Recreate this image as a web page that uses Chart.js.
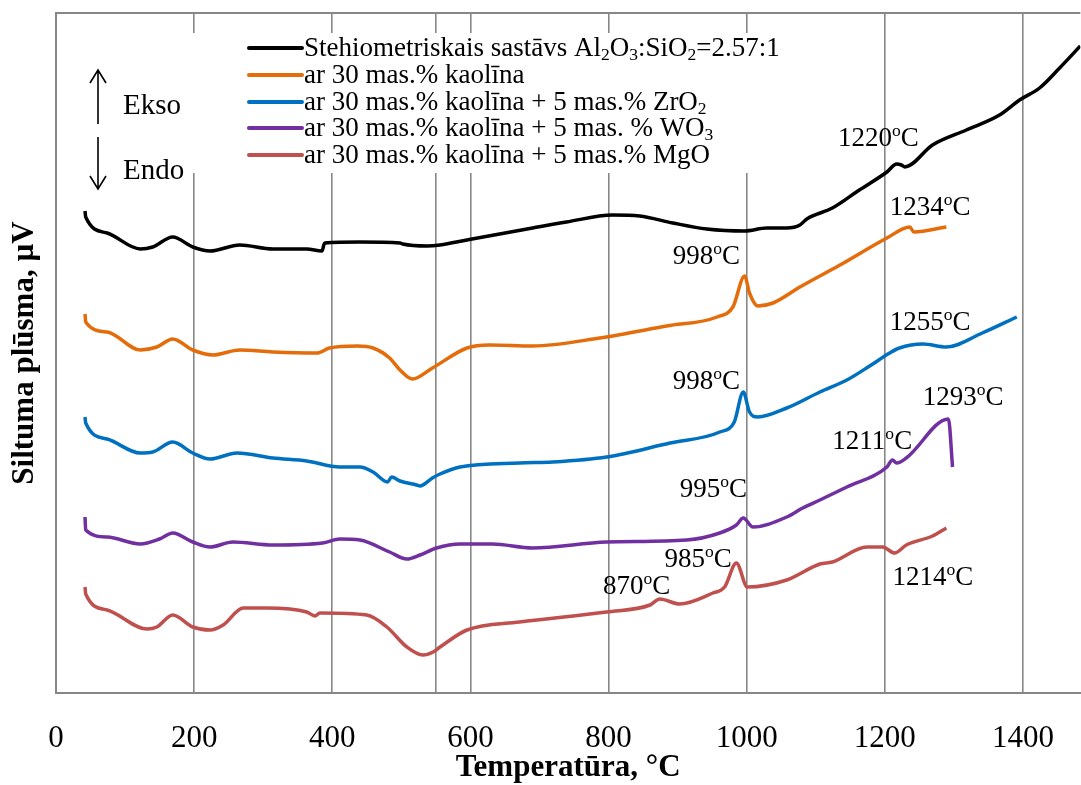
<!DOCTYPE html>
<html><head><meta charset="utf-8">
<script src="https://cdn.jsdelivr.net/npm/chart.js@4"></script>
<style>html,body{margin:0;padding:0;background:#fff}#wrap{width:1081px;height:785px;position:relative}</style>
</head><body><div id="wrap"><canvas id="c" width="1081" height="785"></canvas></div>
<script>
// ---- DATA (temperature °C, heat-flow signal, arbitrary µV offsets) ----
const stehT = [42,43,74,122,140,169,198,223,266,314,363,385,389,440,498,502,537,556,595,690,739,806,845,893,942,997,1029,1058,1077,1087,1124,1163,1203,1217,1224,1229,1269,1318,1366,1395,1424,1453,1483];
const stehV = [48.2,47.6,46.0,44.4,44.6,45.6,44.6,44.2,44.8,44.4,44.4,44.2,45.0,45.1,45.0,44.9,44.7,44.8,45.3,46.5,47.1,47.8,47.7,47.0,46.4,46.2,46.5,46.5,46.8,47.4,48.5,50.3,52.1,52.9,52.8,52.6,54.8,56.3,57.8,59.3,60.5,62.5,64.7];

const kaolT = [42,43,74,122,146,169,198,227,266,314,378,396,436,459,483,498,516,545,595,628,690,787,884,957,980,997,1004,1016,1038,1077,1135,1203,1236,1242,1289];
const kaolV = [37.9,37.1,36.1,34.3,34.6,35.4,34.3,33.8,34.3,34.1,34.0,34.5,34.7,34.5,33.5,32.3,31.4,32.5,34.5,34.8,34.7,35.5,36.7,37.6,38.6,41.7,40.0,38.7,39.0,40.6,42.8,45.5,46.6,46.1,46.6];

const zrT = [42,43,74,122,140,169,198,223,262,314,363,411,440,459,480,486,498,522,527,545,556,585,671,719,797,889,961,982,995,1004,1016,1058,1106,1145,1178,1207,1221,1255,1289,1341,1391];
const zrV = [27.6,27.0,25.4,24.0,24.1,25.1,24.0,23.4,24.0,23.5,23.2,22.6,22.6,22.1,21.1,21.6,21.2,20.8,20.7,21.5,21.9,22.6,23.0,23.1,23.6,25.0,26.1,27.1,30.1,28.1,27.6,28.5,30.1,31.3,32.7,34.0,34.5,34.9,34.6,36.0,37.6];

const wT = [42,43,74,122,150,169,198,223,256,314,386,411,440,483,508,527,551,585,632,690,797,913,961,985,995,1009,1058,1081,1106,1145,1203,1211,1217,1231,1292,1298];
const wV = [17.6,16.3,15.6,14.9,15.4,16.0,15.1,14.6,15.1,14.8,15.0,15.4,15.3,14.1,13.4,13.8,14.5,14.9,14.9,14.5,15.1,15.3,16.0,16.8,17.5,16.6,17.6,18.5,19.3,20.6,22.6,23.3,23.0,23.5,27.4,22.6];

const mgT = [42,43,74,132,146,169,198,223,242,271,305,363,375,382,450,479,508,531,546,556,595,671,797,860,874,903,951,968,985,1001,1058,1106,1124,1174,1197,1214,1231,1269,1289];
const mgV = [10.6,9.9,8.3,6.4,6.6,7.8,6.6,6.3,6.8,8.5,8.5,8.1,7.7,8.0,7.8,6.6,4.6,3.8,4.1,4.6,6.3,7.1,8.1,8.8,9.4,8.9,10.0,10.6,13.0,10.6,11.3,12.9,13.1,14.6,14.6,14.0,14.8,15.7,16.5];

const seriesNames = [
  'Stehiometriskais sastāvs Al₂O₃:SiO₂=2.57:1',
  'ar 30 mas.% kaolīna',
  'ar 30 mas.% kaolīna + 5 mas.% ZrO₂',
  'ar 30 mas.% kaolīna + 5 mas. % WO₃',
  'ar 30 mas.% kaolīna + 5 mas.% MgO'
];
const xTickLabels = [0,200,400,600,800,1000,1200,1400];
const xGridValues = [0,200,400,550,600,800,1000,1200,1400];

// peak annotations: text, temperature position, signal position
const annotations = [
  {text:'1220ºC', t:1132, v:55.4},
  {text:'1234ºC', t:1207, v:48.5},
  {text:'998ºC',  t:893,  v:43.6},
  {text:'1255ºC', t:1207, v:37.0},
  {text:'998ºC',  t:893,  v:31.1},
  {text:'1293ºC', t:1255, v:29.5},
  {text:'1211ºC', t:1124, v:25.1},
  {text:'995ºC',  t:903,  v:20.3},
  {text:'985ºC',  t:881,  v:13.3},
  {text:'870ºC',  t:792,  v:10.6},
  {text:'1214ºC', t:1211, v:11.5}
];

// ---- STYLE ----
const SERIF = '"Liberation Serif", "Times New Roman", serif';
const colors = ['#000000','#E46C0A','#0070C0','#7030A0','#C0504D'];
const GRID = '#878787';

function zip(t, v){ return t.map((x,i)=>({x:x, y:v[i]})); }
const allT = [stehT,kaolT,zrT,wT,mgT];
const allV = [stehV,kaolV,zrV,wV,mgV];

function drawRich(ctx, str, x, y, size, bold){
  // draws text with ₂/₃ as subscripts and º as superscript o
  const runs = [];
  let cur = '';
  for (const ch of str){
    if (ch==='₂'||ch==='₃'||ch==='º'){
      if (cur) runs.push({t:cur, k:'n'});
      cur='';
      if (ch==='º') runs.push({t:'o', k:'sup'});
      else runs.push({t: ch==='₂'?'2':'3', k:'sub'});
    } else cur += ch;
  }
  if (cur) runs.push({t:cur, k:'n'});
  let cx = x;
  ctx.textBaseline = 'middle';
  ctx.textAlign = 'left';
  for (const r of runs){
    let s = size, dy = 0;
    if (r.k==='sub'){ s = size*0.65; dy = size*0.22; }
    if (r.k==='sup'){ s = size*0.65; dy = -size*0.27; }
    ctx.font = (bold?'bold ':'') + s + 'px ' + SERIF;
    ctx.fillText(r.t, cx, y+dy);
    cx += ctx.measureText(r.t).width;
  }
  return cx - x;
}

const decorPlugin = {
  id:'decor',
  beforeDatasetsDraw(chart){
    const ctx = chart.ctx, a = chart.chartArea;
    ctx.save();
    // top plot border
    ctx.strokeStyle = GRID; ctx.lineWidth = 2;
    ctx.beginPath(); ctx.moveTo(a.left, a.top); ctx.lineTo(a.right, a.top); ctx.stroke();
    // white legend / label box
    ctx.fillStyle = '#fff';
    ctx.fillRect(75, 33, 725, 140);
    // legend
    const rows = [48, 75, 102, 128, 155];
    chart.data.datasets.forEach((ds, i)=>{
      ctx.strokeStyle = ds.borderColor; ctx.lineWidth = 4; ctx.lineCap = 'round';
      ctx.beginPath(); ctx.moveTo(249, rows[i]); ctx.lineTo(302, rows[i]); ctx.stroke();
      ctx.fillStyle = '#000';
      drawRich(ctx, ds.label, 304, rows[i]+1, 27, false);
    });
    // Ekso / Endo arrows
    ctx.strokeStyle = '#000'; ctx.lineWidth = 1.6; ctx.lineCap = 'butt';
    ctx.beginPath();
    ctx.moveTo(98,124); ctx.lineTo(98,70);
    ctx.moveTo(90,83); ctx.lineTo(98,70); ctx.lineTo(106,83);
    ctx.moveTo(98,137); ctx.lineTo(98,189);
    ctx.moveTo(90,176); ctx.lineTo(98,189); ctx.lineTo(106,176);
    ctx.stroke();
    ctx.fillStyle = '#000';
    drawRich(ctx, 'Ekso', 123, 106, 29, false);
    drawRich(ctx, 'Endo', 123, 171, 29, false);
    ctx.restore();
  },
  afterDatasetsDraw(chart){
    const ctx = chart.ctx, xs = chart.scales.x, ys = chart.scales.y;
    ctx.save();
    ctx.fillStyle = '#000';
    annotations.forEach(an=>{
      drawRich(ctx, an.text, xs.getPixelForValue(an.t), ys.getPixelForValue(an.v), 27, false);
    });
    ctx.restore();
  }
};

new Chart(document.getElementById('c'), {
  type:'line',
  data:{
    datasets: seriesNames.map((n,i)=>({
      label:n,
      data: zip(allT[i], allV[i]),
      borderColor: colors[i],
      backgroundColor: colors[i],
      borderWidth: 3.5,
      pointRadius: 0,
      cubicInterpolationMode:'monotone',
      fill:false
    }))
  },
  options:{
    responsive:false,
    animation:false,
    parsing:true,
    layout:{padding:{top:13,right:0,left:0,bottom:0}},
    plugins:{legend:{display:false}, tooltip:{enabled:false}},
    scales:{
      x:{
        type:'linear', min:0, max:1483,
        afterBuildTicks(s){ s.ticks = xGridValues.map(v=>({value:v})); },
        afterFit(s){ s.height = 92; },
        grid:{color:GRID, lineWidth:1.6, drawTicks:false},
        border:{display:true, color:GRID, width:2},
        ticks:{
          autoSkip:false, maxRotation:0, padding:27, color:'#000',
          font:{family:SERIF, size:31},
          callback:(v)=> xTickLabels.includes(v) ? String(v) : ''
        },
        title:{display:true, text:'Temperatūra, °C', color:'#000',
          font:{family:SERIF, size:31, weight:'bold', lineHeight:1},
          padding:{top:0,bottom:2}}
      },
      y:{
        min:0, max:68,
        afterFit(s){ s.width = 56; },
        ticks:{display:false},
        grid:{display:false, drawTicks:false},
        border:{display:true, color:GRID, width:2},
        title:{display:true, text:'Siltuma plūsma, µV', color:'#000',
          font:{family:SERIF, size:31, weight:'bold', lineHeight:1},
          padding:{top:9,bottom:0}}
      }
    }
  },
  plugins:[decorPlugin]
});
</script></body></html>
